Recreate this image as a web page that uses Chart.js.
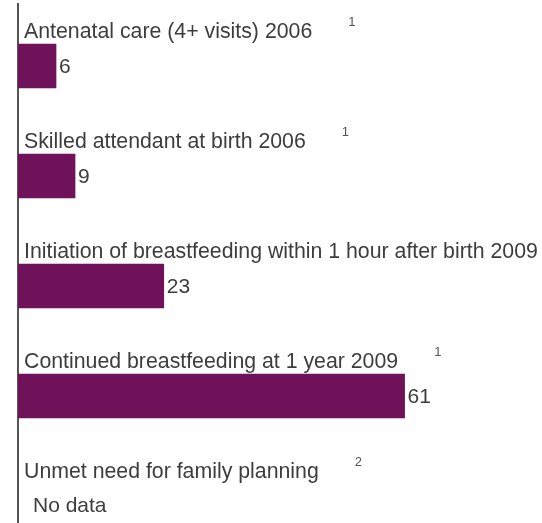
<!DOCTYPE html>
<html>
<head>
<meta charset="utf-8">
<script src="https://cdn.jsdelivr.net/npm/chart.js@4/dist/chart.umd.min.js"></script>
<style>
  html, body { margin: 0; padding: 0; background: #fff; overflow: hidden; }
  #wrap { position: relative; width: 542px; height: 561px; }
</style>
</head>
<body>
<div id="wrap"><canvas id="indicatorChart"></canvas></div>
<script>
// indicator names, values (percent), footnote refs
const indicators = [
  "Antenatal care (4+ visits) 2006",
  "Skilled attendant at birth 2006",
  "Initiation of breastfeeding within 1 hour after birth 2009",
  "Continued breastfeeding at 1 year 2009",
  "Unmet need for family planning",
];
const values = [6, 9, 23, 61, null];
const footnotes = ["1", "1", "1", "1", "2"];

const FONT = "Liberation Sans, Arial, sans-serif";

// draws the text labels above each bar, the value next to it and footnote refs
const barLabels = {
  id: "barLabels",
  afterDatasetsDraw(chart) {
    const ctx = chart.ctx;
    const meta = chart.getDatasetMeta(0);
    const area = chart.chartArea;
    ctx.save();
    // axis line runs a bit above the plot area in the original
    ctx.strokeStyle = "#555";
    ctx.lineWidth = 2;
    ctx.beginPath();
    ctx.moveTo(area.left, 3);
    ctx.lineTo(area.left, area.top);
    ctx.stroke();

    meta.data.forEach((bar, i) => {
      const top = bar.y - 22;
      ctx.font = "21.3px " + FONT;
      ctx.fillStyle = "#3d3d3d";
      ctx.textAlign = "left";
      ctx.textBaseline = "alphabetic";
      const name = indicators[i];
      ctx.fillText(name, area.left + 6, top - 6);
      const w = ctx.measureText(name).width;

      ctx.font = "13px " + FONT;
      ctx.fillStyle = "#555";
      ctx.fillText(footnotes[i], area.left + 6 + w + 36, top - 18);

      ctx.font = "21px " + FONT;
      ctx.fillStyle = "#3d3d3d";
      ctx.textBaseline = "middle";
      if (values[i] == null) {
        ctx.fillText("No data", area.left + 15, bar.y);
      } else {
        ctx.fillText(String(values[i]), bar.x + 3, bar.y + 1);
      }
    });
    ctx.restore();
  },
};

new Chart(document.getElementById("indicatorChart"), {
  type: "bar",
  data: {
    labels: indicators,
    datasets: [
      {
        data: values,
        backgroundColor: "#701259",
        borderWidth: 0,
        barThickness: 44,
      },
    ],
  },
  options: {
    indexAxis: "y",
    responsive: true,
    maintainAspectRatio: false,
    animation: false,
    layout: { padding: { top: 11, left: 18, right: 17, bottom: 0 } },
    plugins: {
      legend: { display: false },
      tooltip: { enabled: false },
    },
    scales: {
      x: { display: false, min: 0, max: 80 },
      y: {
        display: true,
        grid: { display: false, drawTicks: false },
        ticks: { display: false },
        border: { display: true, color: "#555", width: 2 },
      },
    },
  },
  plugins: [barLabels],
});
</script>
</body>
</html>
